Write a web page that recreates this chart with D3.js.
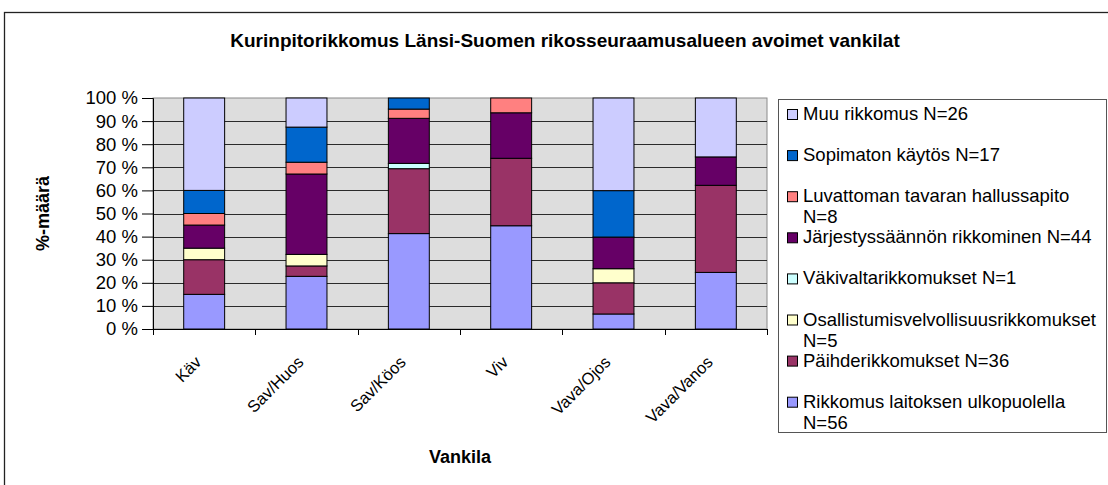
<!DOCTYPE html>
<html><head><meta charset="utf-8">
<script src="https://cdn.jsdelivr.net/npm/d3@7"></script>
<style>
body{margin:0;background:#fff;}
svg text{font-family:"Liberation Sans",Arial,sans-serif;fill:#000;}
</style></head>
<body><svg id="c" width="1108" height="485"></svg>
<script>
const title = "Kurinpitorikkomus Länsi-Suomen rikosseuraamusalueen avoimet vankilat";
const yTitle = "%-määrä";
const xTitle = "Vankila";
const categories = ["Käv","Sav/Huos","Sav/Köos","Viv","Vava/Ojos","Vava/Vanos"];
const yTicks = [0,0.1,0.2,0.3,0.4,0.5,0.6,0.7,0.8,0.9,1];
const yTickLabels = ["0 %","10 %","20 %","30 %","40 %","50 %","60 %","70 %","80 %","90 %","100 %"];
// series, bottom to top (percent of each prison)
const seriesNames = [
  "Rikkomus laitoksen ulkopuolella\nN=56",
  "Päihderikkomukset N=36",
  "Osallistumisvelvollisuusrikkomukset\nN=5",
  "Väkivaltarikkomukset N=1",
  "Järjestyssäännön rikkominen N=44",
  "Luvattoman tavaran hallussapito\nN=8",
  "Sopimaton käytös N=17",
  "Muu rikkomus N=26"
];
const seriesColors = ["#9999FF","#993366","#FFFFCC","#CCFFFF","#660066","#FF8080","#0066CC","#CCCCFF"];
const rikkomusUlkopuolella = [15, 22.8, 41.3, 44.7, 6.5, 24.5];
const paihderikkomukset     = [15, 4.5, 28.1, 29.2, 13.5, 37.7];
const osallistumis          = [5, 5.0, 0, 0, 6.1, 0];
const vakivalta             = [0, 0, 2.3, 0, 0, 0];
const jarjestys             = [10, 34.8, 19.5, 19.7, 13.7, 12.3];
const luvattoman            = [5, 5.1, 4.0, 6.4, 0, 0];
const sopimaton             = [10, 15.2, 4.8, 0, 20.1, 0];
const muu                   = [40, 12.6, 0, 0, 40.1, 25.5];
const seriesValues = [rikkomusUlkopuolella, paihderikkomukset, osallistumis, vakivalta, jarjestys, luvattoman, sopimaton, muu];

const svg = d3.select("#c");
const P = {left:153, right:767, top:98, bottom:329};

// outer frame
svg.append("rect").attr("x",4.5).attr("y",12.5).attr("width",1120).attr("height",490)
  .attr("fill","#fff").attr("stroke","#222").attr("stroke-width",1.3);

svg.append("text").attr("x",565).attr("y",47).attr("text-anchor","middle")
  .attr("font-weight","bold").attr("font-size",19).text(title);

const x = d3.scaleBand().domain(categories).range([P.left,P.right]).paddingInner(0.6).paddingOuter(0.3);
const y = d3.scaleLinear().domain([0,1]).range([P.bottom,P.top]);

// plot background
svg.append("rect").attr("x",P.left).attr("y",P.top).attr("width",P.right-P.left).attr("height",P.bottom-P.top)
  .attr("fill","#DDDDDD").attr("stroke","#8a8a8a").attr("stroke-width",1);

// gridlines
svg.append("g").selectAll("line").data(yTicks.slice(1,-1)).join("line")
  .attr("x1",P.left).attr("x2",P.right)
  .attr("y1",d=>Math.round(y(d))+0.5).attr("y2",d=>Math.round(y(d))+0.5)
  .attr("stroke","#2a2a2a").attr("stroke-width",1.2);

// data table for stack
const table = categories.map((c,i)=>{const o={cat:c}; seriesNames.forEach((s,k)=>o[s]=seriesValues[k][i]); return o;});
const stack = d3.stack().keys(seriesNames).offset(d3.stackOffsetExpand);
const layers = stack(table);

svg.append("g").selectAll("g").data(layers).join("g")
  .attr("fill",(d,i)=>seriesColors[i])
  .selectAll("rect").data(d=>d.filter(v=>v[1]-v[0]>0)).join("rect")
  .attr("x",d=>x(d.data.cat)).attr("width",x.bandwidth())
  .attr("y",d=>y(d[1])).attr("height",d=>y(d[0])-y(d[1]))
  .attr("stroke","#000").attr("stroke-width",1);

// y axis
const yAxis = d3.axisLeft(y).tickValues(yTicks).tickFormat((d,i)=>yTickLabels[i]).tickSize(11).tickPadding(4);
const ga = svg.append("g").attr("transform",`translate(${P.left},0)`).call(yAxis);
ga.select(".domain").attr("stroke","#000");
ga.selectAll(".tick line").attr("stroke","#000");
ga.selectAll("text").attr("font-size",18.5).attr("font-family","Liberation Sans, Arial, sans-serif");

// x axis
svg.append("line").attr("x1",P.left).attr("x2",P.right).attr("y1",P.bottom+0.5).attr("y2",P.bottom+0.5).attr("stroke","#000");
const step = x.step();
svg.append("g").selectAll("line").data(d3.range(categories.length+1)).join("line")
  .attr("x1",i=>Math.round(P.left+i*step)+0.5).attr("x2",i=>Math.round(P.left+i*step)+0.5)
  .attr("y1",P.bottom).attr("y2",P.bottom+6).attr("stroke","#000");
svg.append("g").selectAll("text").data(categories).join("text")
  .attr("transform",d=>`translate(${x(d)+x.bandwidth()/2-5},${P.bottom+31}) rotate(-45)`)
  .attr("text-anchor","end").attr("dominant-baseline","middle").attr("font-size",16.5).text(d=>d);

svg.append("text").attr("x",(P.left+P.right)/2).attr("y",463).attr("text-anchor","middle")
  .attr("font-weight","bold").attr("font-size",18).text(xTitle);
svg.append("text").attr("transform",`translate(43,${(P.top+P.bottom)/2}) rotate(-90)`)
  .attr("text-anchor","middle").attr("dominant-baseline","central").attr("font-weight","bold").attr("font-size",18).text(yTitle);

// legend
svg.append("rect").attr("x",778.5).attr("y",99.5).attr("width",328).attr("height",333)
  .attr("fill","#fff").attr("stroke","#555").attr("stroke-width",1);
const legendOrder = d3.range(seriesNames.length).reverse();
const lg = svg.append("g").selectAll("g").data(legendOrder).join("g")
  .attr("transform",(d,i)=>`translate(787,${115+i*41.1})`);
lg.append("rect").attr("x",0.5).attr("y",-5.5).attr("width",10).attr("height",10)
  .attr("fill",d=>seriesColors[d]).attr("stroke","#000");
lg.append("text").attr("x",16).attr("font-size",18.5).attr("dominant-baseline","middle")
  .selectAll("tspan").data(d=>seriesNames[d].split("\n")).join("tspan")
  .attr("x",16).attr("dy",(t,j)=>j===0?0:21).text(t=>t);
</script></body></html>
